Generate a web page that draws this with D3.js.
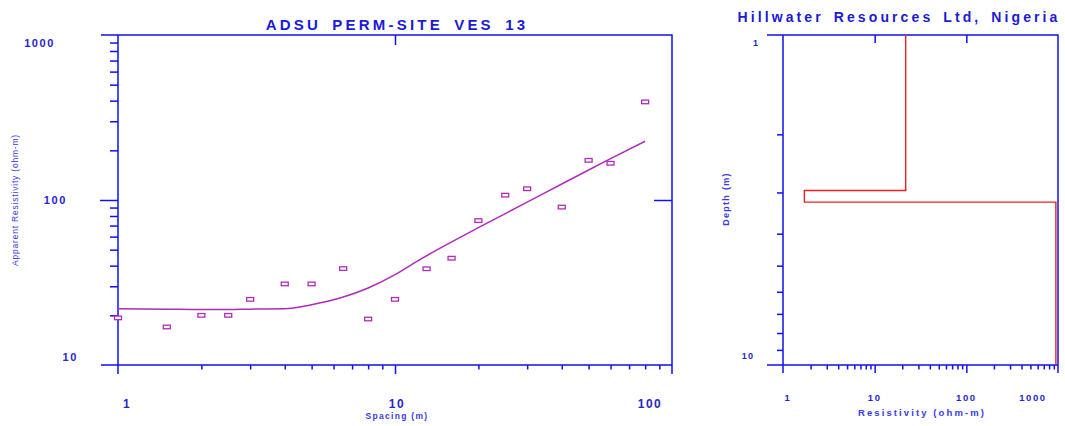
<!DOCTYPE html>
<html>
<head>
<meta charset="utf-8">
<script src="https://cdn.jsdelivr.net/npm/d3@7"></script>
<style>
  html, body { margin: 0; padding: 0; background: #ffffff; }
  svg { display: block; font-family: "Liberation Sans", Arial, sans-serif; }
</style>
</head>
<body>
<svg id="chart" width="1065" height="426"></svg>
<script>
// Sounding curve: field measurements (electrode spacing AB/2 in m, apparent resistivity in ohm-m)
const spacing      = [1, 1.5, 2, 2.5, 3, 4, 5, 6.5, 8, 10, 13, 16, 20, 25, 30, 40, 50, 60, 80];
const apparentRho  = [19.3, 17, 20, 20, 25, 31, 31, 38.4, 19, 25, 38.3, 44.4, 75, 107, 117, 90.6, 174, 167, 393];

// Computed model response curve
const curveSpacing = [1, 1.5, 2, 2.5, 3, 4, 5, 6.5, 8, 10, 12, 15, 20, 30, 40, 50, 60, 80];
const curveRho     = [21.9, 21.8, 21.7, 21.7, 21.8, 21.9, 23.2, 25.8, 29.3, 35.3, 42.5, 52.5, 68, 97, 125, 152, 178, 227];

// Interpreted layered model: resistivity and depth to top of each layer
const layerRho   = [21.8, 1.71, 948];
const layerTop   = [1, 2.96, 3.21];
const modelBase  = 10;

// Tick labels
const leftXLabels  = [1, 10, 100];
const leftYLabels  = [1000, 100, 10];
const rightXLabels = [1, 10, 100, 1000];
const rightYLabels = [1, 10];

const AXIS = "#1010f4";
const LABEL = "#2626c8";
const TITLE = "#1a1ad8";
const CURVE = "#b02cb8";
const MODEL = "#e82222";

const svg = d3.select("#chart");

// helper: minor log ticks (2..9 of each decade) inside a domain
function minorTicks(lo, hi) {
  const out = [];
  for (let d = lo; d < hi; d *= 10)
    for (let k = 2; k <= 9; k++) if (d * k < hi * 0.999) out.push(d * k);
  return out;
}

function styleAxis(g) {
  g.select(".domain").remove();
  g.selectAll("line").attr("stroke", AXIS).attr("stroke-width", 1.5);
  g.selectAll("text").remove();
}

// ================= Left panel: sounding curve =================
const xL = d3.scaleLog().domain([1, 100]).range([118, 672]);
const yL = d3.scaleLog().domain([10, 1000]).range([365, 35]);

const left = svg.append("g");

// frame
left.append("path")
  .attr("d", `M${xL(1) - 17},${yL(1000)}H${xL(100)}V${yL(10) + 9}`
           + `M${xL(1) - 17},${yL(10)}H${xL(100)}`
           + `M${xL(1)},${yL(1000)}V${yL(10) + 9}`)
  .attr("fill", "none").attr("stroke", AXIS).attr("stroke-width", 1.5);

// y minor ticks (outside, left)
left.append("g").attr("transform", `translate(${xL(1)},0)`)
  .call(d3.axisLeft(yL).tickValues(minorTicks(10, 1000)).tickSize(8).tickFormat(""))
  .call(styleAxis);
// y major tick at 100
left.append("g").attr("transform", `translate(${xL(1)},0)`)
  .call(d3.axisLeft(yL).tickValues([100]).tickSize(18).tickFormat(""))
  .call(styleAxis);
// right-side major tick at 100 (inside)
left.append("g").attr("transform", `translate(${xL(100)},0)`)
  .call(d3.axisLeft(yL).tickValues([100]).tickSize(18).tickFormat(""))
  .call(styleAxis);
// x minor ticks
left.append("g").attr("transform", `translate(0,${yL(10)})`)
  .call(d3.axisBottom(xL).tickValues(minorTicks(1, 100)).tickSize(4.5).tickFormat(""))
  .call(styleAxis);
// x major tick at 10
left.append("g").attr("transform", `translate(0,${yL(10)})`)
  .call(d3.axisBottom(xL).tickValues([10]).tickSize(9).tickFormat(""))
  .call(styleAxis);
// top tick at 10 (inside)
left.append("g").attr("transform", `translate(0,${yL(1000)})`)
  .call(d3.axisBottom(xL).tickValues([10]).tickSize(10).tickFormat(""))
  .call(styleAxis);

// y tick labels
const yLabOff = [{dx: -63, dy: 8}, {dx: -51, dy: 0}, {dx: -40, dy: -8}];
left.selectAll("text.ylab").data(leftYLabels).join("text")
  .attr("class", "ylab")
  .attr("x", (d, i) => xL(1) + yLabOff[i].dx)
  .attr("y", (d, i) => yL(d) + yLabOff[i].dy + 4)
  .attr("text-anchor", "end")
  .attr("font-size", 11).attr("font-weight", "bold")
  .attr("letter-spacing", 1.6)
  .attr("fill", LABEL)
  .text(d => d);

// x tick labels
const xLabOff = [9, 2, -22];
left.selectAll("text.xlab").data(leftXLabels).join("text")
  .attr("class", "xlab")
  .attr("x", (d, i) => xL(d) + xLabOff[i])
  .attr("y", 408)
  .attr("text-anchor", "middle")
  .attr("font-size", 12).attr("font-weight", "bold")
  .attr("letter-spacing", 1.5)
  .attr("fill", LABEL)
  .text(d => d);

// axis titles
left.append("text")
  .attr("x", 397).attr("y", 419)
  .attr("text-anchor", "middle")
  .attr("font-size", 8.5).attr("font-weight", "bold")
  .attr("letter-spacing", 1.3)
  .attr("fill", "#3a3ae8")
  .text("Spacing (m)");

left.append("text")
  .attr("transform", "translate(18,200) rotate(-90)")
  .attr("text-anchor", "middle")
  .attr("font-size", 8.5)
  .attr("letter-spacing", 0.8)
  .attr("fill", "#3a3ae8")
  .text("Apparent Resistivity (ohm-m)");

// title
left.append("text")
  .attr("x", 397).attr("y", 30)
  .attr("text-anchor", "middle")
  .attr("font-size", 15).attr("font-weight", "bold")
  .attr("letter-spacing", 3.2).attr("word-spacing", 4)
  .attr("fill", TITLE)
  .text("ADSU PERM-SITE VES 13");

// model response curve
const line = d3.line()
  .x(d => xL(d[0])).y(d => yL(d[1]))
  .curve(d3.curveMonotoneX);
left.append("path")
  .datum(curveSpacing.map((s, i) => [s, curveRho[i]]))
  .attr("d", line)
  .attr("fill", "none").attr("stroke", CURVE).attr("stroke-width", 1.5);

// measured points
left.selectAll("rect.pt").data(spacing.map((s, i) => [s, apparentRho[i]])).join("rect")
  .attr("class", "pt")
  .attr("x", d => xL(d[0]) - 3.5).attr("y", d => yL(d[1]) - 1.8)
  .attr("width", 7).attr("height", 3.6)
  .attr("fill", "#ffffff").attr("stroke", CURVE).attr("stroke-width", 1.3);

// ================= Right panel: layered model =================
const xR = d3.scaleLog().domain([1, 1000]).range([783, 1058]);
const yR = d3.scaleLog().domain([1, 10]).range([35, 365]);

const right = svg.append("g");

right.append("path")
  .attr("d", `M${xR(1) - 16},${yR(1)}H${xR(1000)}V${yR(10) + 8}`
           + `M${xR(1) - 16},${yR(10)}H${xR(1000)}`
           + `M${xR(1)},${yR(1)}V${yR(10) + 8}`)
  .attr("fill", "none").attr("stroke", AXIS).attr("stroke-width", 1.5);

// depth minor ticks
right.append("g").attr("transform", `translate(${xR(1)},0)`)
  .call(d3.axisLeft(yR).tickValues(minorTicks(1, 10)).tickSize(6).tickFormat(""))
  .call(styleAxis);
// resistivity minor ticks
right.append("g").attr("transform", `translate(0,${yR(10)})`)
  .call(d3.axisBottom(xR).tickValues(minorTicks(1, 1000)).tickSize(4.5).tickFormat(""))
  .call(styleAxis);
// resistivity major ticks
right.append("g").attr("transform", `translate(0,${yR(10)})`)
  .call(d3.axisBottom(xR).tickValues([10, 100]).tickSize(8).tickFormat(""))
  .call(styleAxis);
// top ticks (inside)
right.append("g").attr("transform", `translate(0,${yR(1)})`)
  .call(d3.axisBottom(xR).tickValues([10, 100]).tickSize(8).tickFormat(""))
  .call(styleAxis);

// tick labels
const rxOff = [5, 0, 0, -25];
right.selectAll("text.xlab").data(rightXLabels).join("text")
  .attr("class", "xlab")
  .attr("x", (d, i) => xR(d) + rxOff[i])
  .attr("y", 401)
  .attr("text-anchor", "middle")
  .attr("font-size", 9.5).attr("font-weight", "bold")
  .attr("letter-spacing", 1.6)
  .attr("fill", LABEL)
  .text(d => d);

const ryOff = [{dx: -27, dy: 11}, {dx: -35, dy: -6}];
right.selectAll("text.ylab").data(rightYLabels).join("text")
  .attr("class", "ylab")
  .attr("x", (d, i) => xR(1) + ryOff[i].dx)
  .attr("y", (d, i) => yR(d) + ryOff[i].dy)
  .attr("text-anchor", "middle")
  .attr("font-size", 9).attr("font-weight", "bold")
  .attr("letter-spacing", 1.2)
  .attr("fill", LABEL)
  .text(d => d);

right.append("text")
  .attr("x", 922).attr("y", 416)
  .attr("text-anchor", "middle")
  .attr("font-size", 9.5).attr("font-weight", "bold")
  .attr("letter-spacing", 2.1)
  .attr("fill", "#3a3ae8")
  .text("Resistivity (ohm-m)");

right.append("text")
  .attr("transform", "translate(729,199) rotate(-90)")
  .attr("text-anchor", "middle")
  .attr("font-size", 9).attr("font-weight", "bold")
  .attr("letter-spacing", 1.3)
  .attr("fill", "#3a3ae8")
  .text("Depth (m)");

right.append("text")
  .attr("x", 899).attr("y", 22)
  .attr("text-anchor", "middle")
  .attr("font-size", 14).attr("font-weight", "bold")
  .attr("letter-spacing", 3.1).attr("word-spacing", 3)
  .attr("fill", TITLE)
  .text("Hillwater Resources Ltd, Nigeria");

// layered model as a step line
const steps = [];
layerRho.forEach((r, i) => {
  const bottom = i + 1 < layerTop.length ? layerTop[i + 1] : modelBase;
  steps.push([r, layerTop[i]], [r, bottom]);
});
right.append("path")
  .datum(steps)
  .attr("d", d3.line().x(d => xR(d[0])).y(d => yR(d[1])))
  .attr("fill", "none").attr("stroke", MODEL).attr("stroke-width", 1.4);
</script>
</body>
</html>
